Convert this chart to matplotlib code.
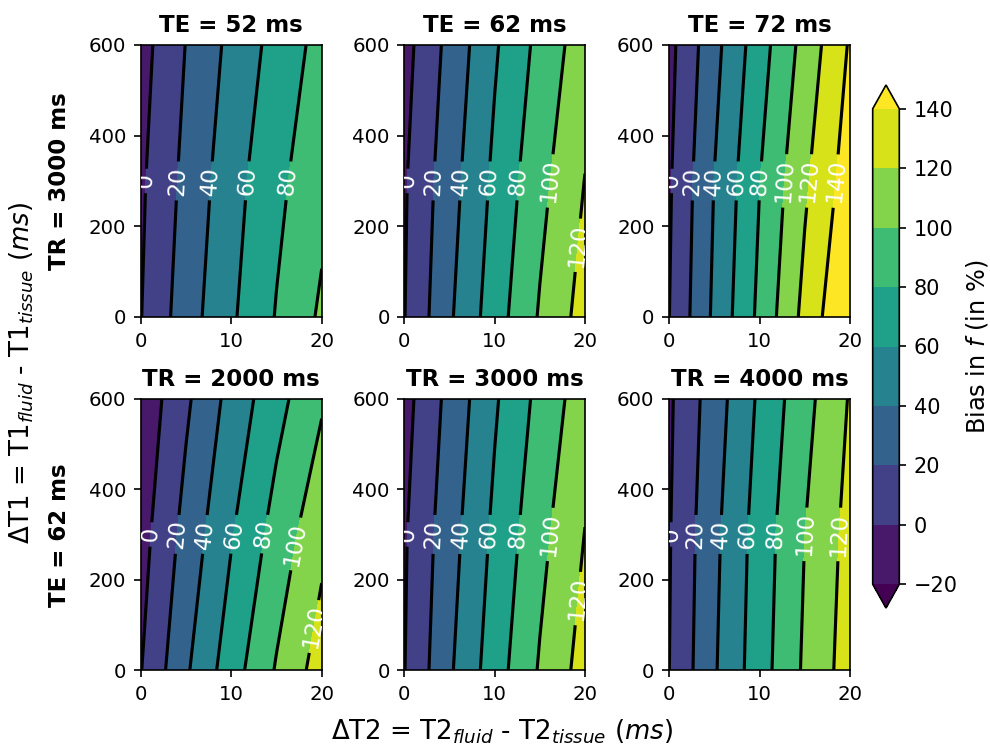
import numpy as np
import matplotlib
matplotlib.use("Agg")
import matplotlib.pyplot as plt
from matplotlib.path import Path

# Grid of the simulated differences
dT2 = [0, 5, 10, 15, 20]          # ΔT2 (ms)
dT1 = [0, 300, 600]               # ΔT1 (ms)
levels = [-20, 0, 20, 40, 60, 80, 100, 120, 140]

# Bias in f (%) — rows follow dT1, columns follow dT2
bias_TR3000_TE52 = [
    [-0.7, 30.6, 56.9, 81.2, 103.3],
    [-3.2, 25.5, 52.0, 75.1, 94.0],
    [-7.5, 20.5, 45.2, 67.1, 86.8],
]
bias_TR3000_TE62 = [
    [-0.6, 37.1, 70.6, 101.9, 128.3],
    [-2.2, 31.8, 64.3, 94.0, 120.5],
    [-7.0, 25.9, 57.5, 85.8, 111.3],
]
bias_TR3000_TE72 = [
    [-0.4, 43.8, 84.6, 125.9, 162.4],
    [-2.5, 40.4, 79.6, 116.8, 150.5],
    [-6.0, 33.8, 71.3, 107.0, 142.1],
]
bias_TR2000_TE62 = [
    [-0.9, 37.1, 70.8, 101.7, 129.5],
    [-7.7, 26.8, 58.5, 87.8, 114.7],
    [-14.5, 16.5, 46.8, 73.3, 97.5],
]
bias_TR4000_TE62 = [
    [-0.3, 37.9, 71.2, 103.0, 129.5],
    [-1.4, 35.4, 68.8, 100.0, 126.5],
    [-3.2, 30.5, 63.3, 93.4, 121.6],
]

top_titles = ["TE = 52 ms", "TE = 62 ms", "TE = 72 ms"]
bottom_titles = ["TR = 2000 ms", "TR = 3000 ms", "TR = 4000 ms"]
row_labels = ["TR = 3000 ms", "TE = 62 ms"]
xticks = [0, 10, 20]
yticks = [0, 200, 400, 600]

panels = [
    [bias_TR3000_TE52, bias_TR3000_TE62, bias_TR3000_TE72],
    [bias_TR2000_TE62, bias_TR3000_TE62, bias_TR4000_TE62],
]
titles = [top_titles, bottom_titles]

W, H = 990, 746
DPI = 150
fig = plt.figure(figsize=(W / DPI, H / DPI), dpi=DPI)

LABEL_FS = 11


def box(x0, y0, x1, y1):
    return [x0 / W, 1 - y1 / H, (x1 - x0) / W, (y1 - y0) / H]


def label_points(cs, ax):
    """Arc-length midpoint of every contour piece long enough for a label."""
    pts = []
    trans = ax.transData
    em = LABEL_FS * DPI / 72.0
    for lev, path in zip(cs.levels, cs.get_paths()):
        verts = path.vertices
        if len(verts) < 2:
            continue
        codes = path.codes
        if codes is None:
            starts = [0]
        else:
            starts = list(np.where(codes == Path.MOVETO)[0])
        bounds = starts + [len(verts)]
        lw = len("%d" % lev) * 0.636 * em
        for a, b in zip(bounds[:-1], bounds[1:]):
            seg = verts[a:b]
            if len(seg) < 2:
                continue
            disp = trans.transform(seg)
            if np.ptp(disp, axis=0).max() < 1.2 * lw:
                continue
            d = np.hypot(*np.diff(disp, axis=0).T)
            cum = np.concatenate([[0.0], np.cumsum(d)])
            half = cum[-1] / 2.0
            pts.append((np.interp(half, cum, seg[:, 0]),
                        np.interp(half, cum, seg[:, 1])))
    return pts


cols_px = [(140.7, 321.7), (404.3, 585.0), (669.0, 850.0)]
rows_px = [(45.0, 317.0), (399.0, 670.0)]

X, Y = np.meshgrid(dT2, dT1)
cf = None
for r in range(2):
    for c in range(3):
        ax = fig.add_axes(box(cols_px[c][0], rows_px[r][0], cols_px[c][1], rows_px[r][1]))
        Z = np.array(panels[r][c], dtype=float)
        cf = ax.contourf(X, Y, Z, levels=levels, cmap="viridis", extend="both")
        cs = ax.contour(X, Y, Z, levels=levels, colors="k", linewidths=1.5)
        ax.set_xlim(0, 20)
        ax.set_ylim(0, 600)
        ax.clabel(cs, fmt="%d", fontsize=LABEL_FS, colors="white",
                  manual=label_points(cs, ax))
        ax.set_title(titles[r][c], fontsize=11, fontweight="bold")
        ax.set_xticks(xticks)
        ax.set_yticks(yticks)
        ax.tick_params(labelsize=9.5)

cax = fig.add_axes(box(872.7, 85, 899.3, 608))
cb = fig.colorbar(cf, cax=cax, ticks=levels)
cb.ax.tick_params(labelsize=10)
cb.set_label("Bias in $f$ (in %)", fontsize=11.5, labelpad=3)

fig.text(60 / W, 1 - 181 / H, row_labels[0], rotation=90, fontsize=11,
         fontweight="bold", ha="center", va="center")
fig.text(60 / W, 1 - 535 / H, row_labels[1], rotation=90, fontsize=11,
         fontweight="bold", ha="center", va="center")
fig.text(22 / W, 1 - 373 / H,
         r"$\Delta$T1 = T1$_{fluid}$ - T1$_{tissue}$ $(ms)$",
         rotation=90, fontsize=12.5, ha="center", va="center")
fig.text(502 / W, 1 - 732 / H,
         r"$\Delta$T2 = T2$_{fluid}$ - T2$_{tissue}$ $(ms)$",
         fontsize=12.5, ha="center", va="center")

fig.savefig("out.png", dpi=DPI)
